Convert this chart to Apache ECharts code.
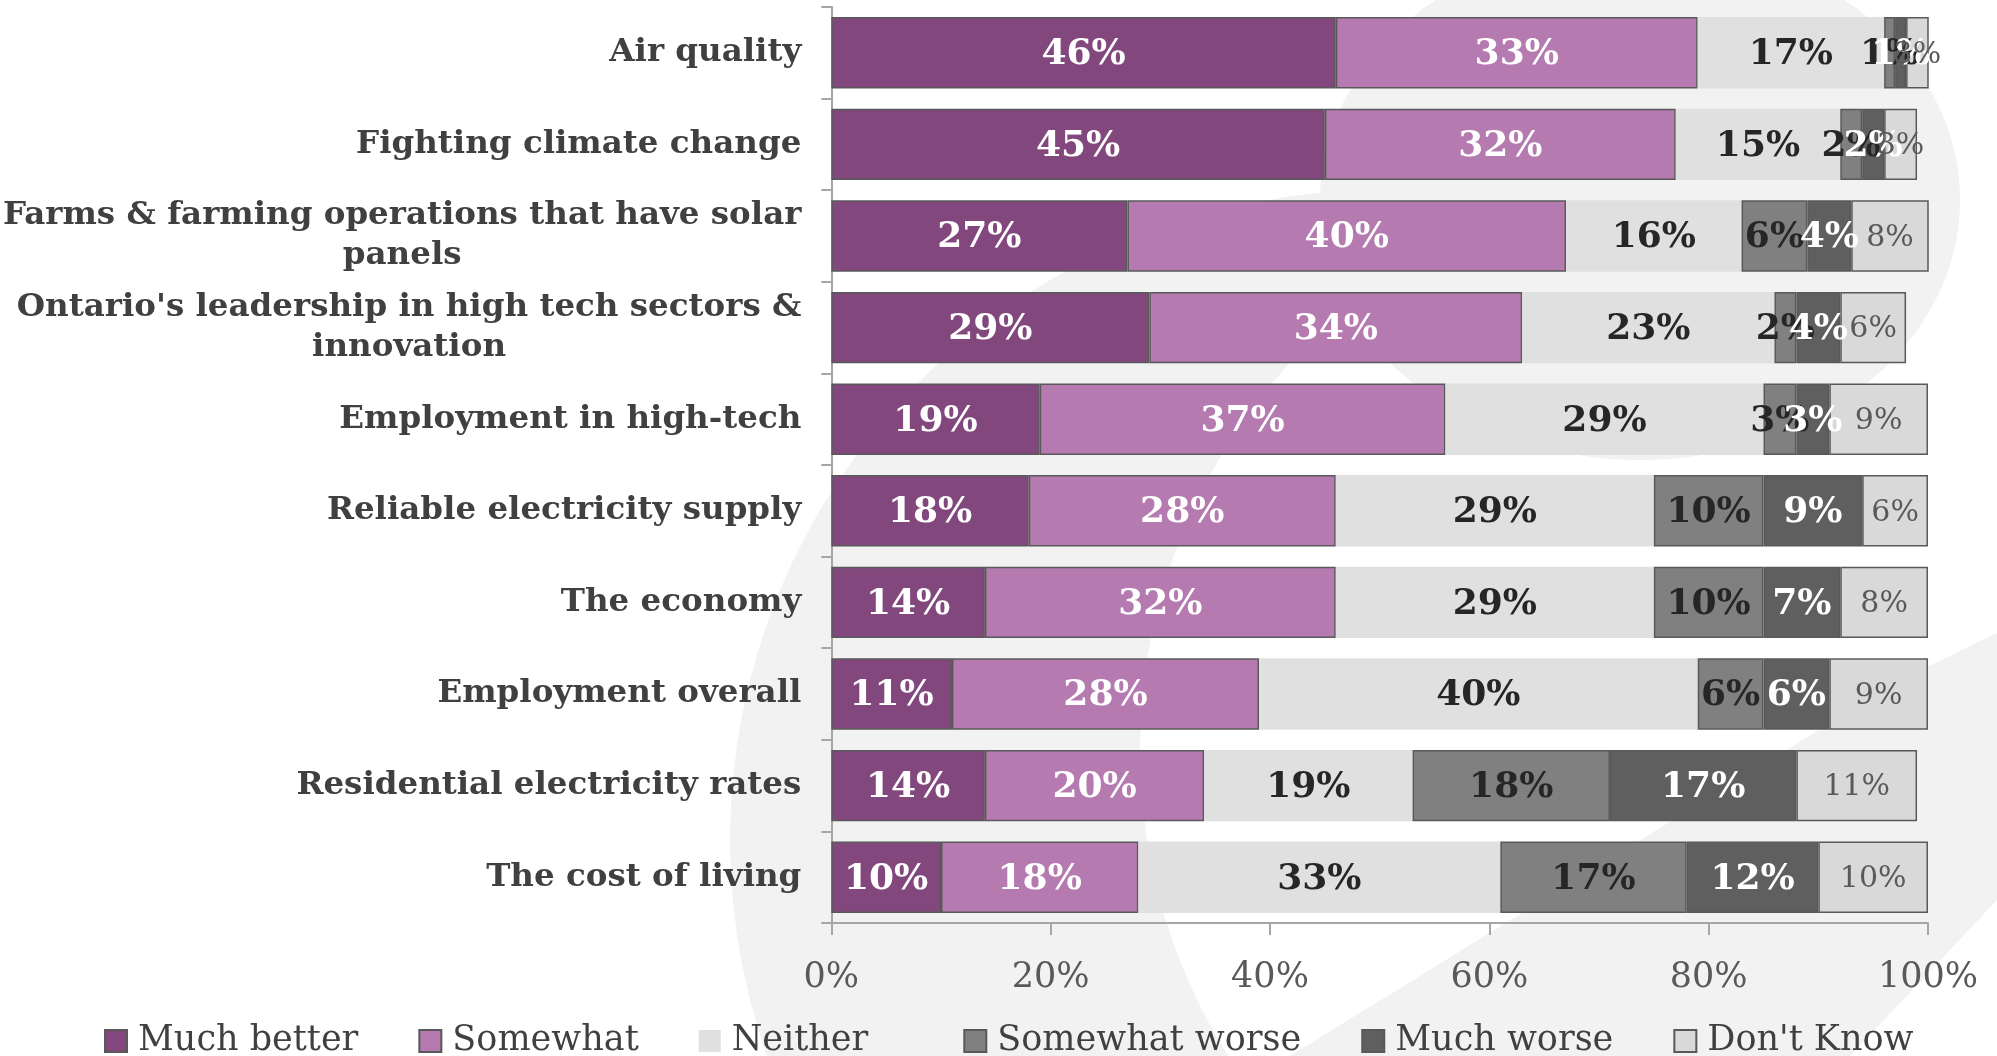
<!DOCTYPE html>
<html>
<head>
<meta charset="utf-8">
<script src="https://cdn.jsdelivr.net/npm/echarts@6/dist/echarts.min.js"></script>
<style>
html,body{margin:0;padding:0;background:#fff;}
#main{width:1997px;height:1056px;}
</style>
</head>
<body>
<div id="main"></div>
<script>
const categories = [
  'Air quality',
  'Fighting climate change',
  'Farms & farming operations that have solar panels',
  "Ontario's leadership in high tech sectors & innovation",
  'Employment in high-tech',
  'Reliable electricity supply',
  'The economy',
  'Employment overall',
  'Residential electricity rates',
  'The cost of living'
];
const seriesNames = ['Much better', 'Somewhat', 'Neither', 'Somewhat worse', 'Much worse', "Don't Know"];
const muchBetter    = [46, 45, 27, 29, 19, 18, 14, 11, 14, 10];
const somewhat      = [33, 32, 40, 34, 37, 28, 32, 28, 20, 18];
const neither       = [17, 15, 16, 23, 29, 29, 29, 40, 19, 33];
const somewhatWorse = [1, 2, 6, 2, 3, 10, 10, 6, 18, 17];
const muchWorse     = [1, 2, 4, 4, 3, 9, 7, 6, 17, 12];
const dontKnow      = [3, 3, 8, 6, 9, 6, 8, 9, 11, 10];
const xTickValues   = [0, 20, 40, 60, 80, 100];

const SERIF = '"DejaVu Serif", "Liberation Serif", serif';
const CAT_FONT_SIZE = 32.5;
const CAT_MAX_W = 820;

const measureCtx = document.createElement('canvas').getContext('2d');
function wrapLabel(text) {
  measureCtx.font = 'bold ' + CAT_FONT_SIZE + 'px ' + SERIF;
  const words = text.split(' ');
  const lines = [];
  let cur = '';
  words.forEach(w => {
    const t = cur ? cur + ' ' + w : w;
    if (measureCtx.measureText(t).width > CAT_MAX_W && cur) {
      lines.push(cur);
      cur = w;
    } else {
      cur = t;
    }
  });
  if (cur) lines.push(cur);
  return lines.map(l => '{c|' + l + '}').join('\n');
}

const colors = ['#82487E', '#B57AB0', '#E0E0E0', '#808080', '#5F5F5F', '#D9D9D9'];
const labelStyles = [
  {color: '#ffffff', fontWeight: 'bold', fontSize: 36},
  {color: '#ffffff', fontWeight: 'bold', fontSize: 36},
  {color: '#262626', fontWeight: 'bold', fontSize: 36},
  {color: '#262626', fontWeight: 'bold', fontSize: 36},
  {color: '#ffffff', fontWeight: 'bold', fontSize: 36},
  {color: '#595959', fontWeight: 'normal', fontSize: 30}
];
const values = [muchBetter, somewhat, neither, somewhatWorse, muchWorse, dontKnow];

const series = seriesNames.map((name, i) => ({
  name: name,
  type: 'bar',
  stack: 'total',
  barCategoryGap: '22%',
  data: values[i],
  itemStyle: {
    color: colors[i],
    borderColor: '#595959',
    borderWidth: i === 2 ? 0 : 1.5
  },
  label: {
    show: true,
    position: 'inside',
    offset: [0, 2],
    formatter: '{c}%',
    fontFamily: SERIF,
    color: labelStyles[i].color,
    fontWeight: labelStyles[i].fontWeight,
    fontSize: labelStyles[i].fontSize
  },
  emphasis: {disabled: true}
}));

const WM = '#f2f2f2';
const chart = echarts.init(document.getElementById('main'), null, {renderer: 'canvas'});
chart.setOption({
  backgroundColor: '#ffffff',
  animation: false,
  graphic: [
    {type: 'circle', z: -10, silent: true, shape: {cx: 1380, cy: 840, r: 650}, style: {fill: WM}},
    {type: 'circle', z: -9, silent: true, shape: {cx: 1715, cy: 750, r: 575}, style: {fill: '#ffffff'}},
    {type: 'polygon', z: -8, silent: true, shape: {points: [[1290, 1056], [1850, 1056], [1997, 900], [1997, 633], [1900, 680]]}, style: {fill: WM}},
    {type: 'ellipse', z: -8, silent: true, shape: {cx: 1640, cy: 200, rx: 320, ry: 260}, style: {fill: WM}}
  ],
  grid: {left: 831, right: 69, top: 7, bottom: 133, containLabel: false},
  legend: {
    data: seriesNames.map(n => n === 'Neither'
      ? {name: n, textStyle: {padding: [0, 35, 0, 6]}}
      : {name: n}),
    left: 99,
    top: 1014,
    icon: 'rect',
    itemWidth: 22,
    itemHeight: 22,
    itemGap: 60,
    textStyle: {fontFamily: SERIF, fontSize: 35, color: '#404040', padding: [0, 0, 0, 6], lineHeight: 44}
  },
  xAxis: {
    type: 'value',
    min: 0,
    max: 100,
    interval: 20,
    axisLine: {show: true, lineStyle: {color: '#a6a6a6', width: 2}},
    axisTick: {show: true, length: 12, lineStyle: {color: '#a6a6a6', width: 2}},
    splitLine: {show: false},
    axisLabel: {
      formatter: v => xTickValues.includes(v) ? v + '%' : '',
      fontFamily: SERIF, fontSize: 35, color: '#595959', margin: 37
    }
  },
  yAxis: {
    type: 'category',
    inverse: true,
    data: categories,
    axisLine: {show: true, lineStyle: {color: '#a6a6a6', width: 2}},
    axisTick: {show: true, length: 10, lineStyle: {color: '#a6a6a6', width: 2}},
    axisLabel: {
      margin: 30,
      formatter: v => wrapLabel(v),
      rich: {
        c: {
          align: 'center',
          fontFamily: SERIF,
          fontWeight: 'bold',
          fontSize: CAT_FONT_SIZE,
          lineHeight: 40,
          color: '#404040'
        }
      }
    }
  },
  series: series
});
</script>
</body>
</html>
